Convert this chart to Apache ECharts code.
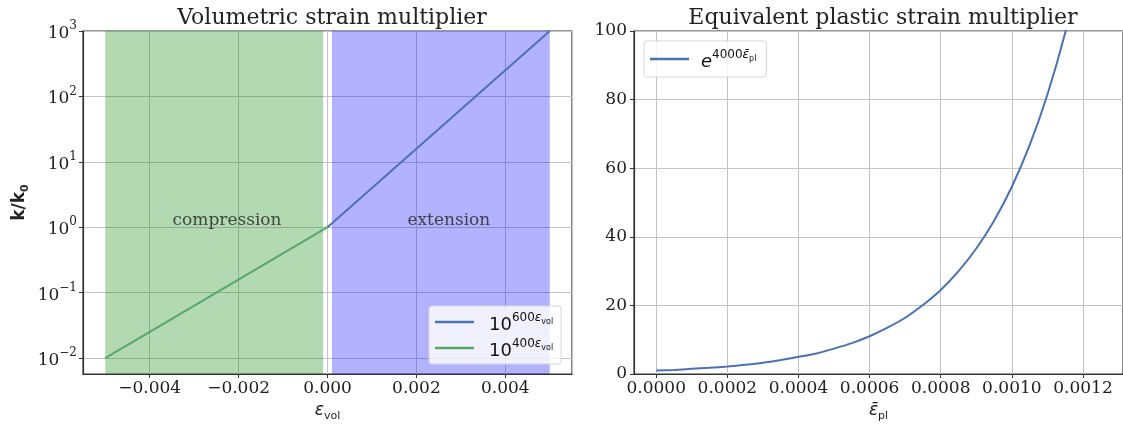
<!DOCTYPE html>
<html>
<head>
<meta charset="utf-8">
<title>Strain multipliers</title>
<script src="https://cdn.jsdelivr.net/npm/echarts@6/dist/echarts.min.js"></script>
</head>
<body style="margin:0">
<div id="main" style="width:1123px;height:428px"></div>
<script>
// left panel: k/k0 against volumetric strain (log axis)
var extVolX = [0, 0.005];
var extVolY = [1, 1000];
var compVolX = [-0.005, 0];
var compVolY = [0.01, 1];
var compressionRange = [-0.005, -0.0001];
var extensionRange = [0.0001, 0.005];
var regionNames = ['compression', 'extension'];
var regionX = [-0.00226, 0.00273];
var regionY = [1.28, 1.28];

// right panel: multiplier against equivalent plastic strain
var plX = [0, 0.00005, 0.0001, 0.00015, 0.0002, 0.00025, 0.0003, 0.00035, 0.0004, 0.00045, 0.0005, 0.00055,
           0.0006, 0.00065, 0.0007, 0.00075, 0.0008, 0.00085, 0.0009, 0.00095, 0.001, 0.00105, 0.0011, 0.00115, 0.0012];
var plY = [1, 1.2, 1.5, 1.8, 2.2, 2.7, 3.3, 4.1, 5.0, 6.0, 7.4, 9.0,
           11, 13.5, 16.4, 20.1, 24.5, 30.0, 36.6, 44.7, 54.6, 66.7, 81.5, 99.5, 121.5];

function zip(xs, ys) {
  return xs.map(function (x, i) { return [x, ys[i]]; });
}

var serif = 'DejaVu Serif';
var sans = 'DejaVu Sans';
var ink = '#222';
var gridColor = '#c4c4c4';
var blue = '#4c72b0';
var green = '#55a868';

var legendText = {
  ext: '{b|10}{s|600}{e|ε}{v|vol}',
  comp: '{b|10}{s|400}{e|ε}{v|vol}',
  pl: '{eb|e}{s|4000}{e|ε\u0304}{v|pl}'
};
var legendRich = {
  b: {fontFamily: sans, fontSize: 18, color: '#111', lineHeight: 24, verticalAlign: 'bottom', padding: [0, 0, 0, 10]},
  eb: {fontFamily: sans, fontSize: 18, fontStyle: 'italic', color: '#111', lineHeight: 24, verticalAlign: 'bottom', padding: [0, 0, 0, 7]},
  s: {fontFamily: sans, fontSize: 12, color: '#111', lineHeight: 12, verticalAlign: 'top', padding: [2, 0, 0, 0]},
  e: {fontFamily: sans, fontSize: 12, fontStyle: 'italic', color: '#111', lineHeight: 12, verticalAlign: 'top', padding: [2, 0, 0, 0]},
  v: {fontFamily: sans, fontSize: 8, color: '#111', lineHeight: 8, verticalAlign: 'top', padding: [8, 0, 0, 0]}
};

function tickStyle() {
  return {show: true, length: 4, lineStyle: {color: '#333'}};
}
function lineAxis() {
  return {show: true, onZero: false, lineStyle: {color: '#333', width: 1.2}};
}
function fixed(n) {
  return function (v) {
    var s = Math.abs(v).toFixed(n);
    return (v < 0 && Number(s) !== 0 ? '−' : '') + s;
  };
}

var chart = echarts.init(document.getElementById('main'));
var option = {
  animation: false,
  title: [
    {text: 'Volumetric strain multiplier', left: 327, top: 2, textAlign: 'center',
     textStyle: {fontFamily: serif, fontSize: 22, fontWeight: 'normal', color: ink}},
    {text: 'Equivalent plastic strain multiplier', left: 878, top: 2, textAlign: 'center',
     textStyle: {fontFamily: serif, fontSize: 22, fontWeight: 'normal', color: ink}}
  ],
  grid: [
    {left: 83, top: 31, width: 489, height: 343, show: true, borderColor: '#333', borderWidth: 1.2, outerBoundsMode: 'none'},
    {left: 634, top: 31, width: 489, height: 343, show: true, borderColor: '#333', borderWidth: 1.2, outerBoundsMode: 'none'}
  ],
  legend: [
    {data: ['ext', 'comp'], orient: 'vertical', left: 429, top: 306, icon: 'rect', itemWidth: 39, itemHeight: 2.5,
     itemGap: 2, padding: [4, 8, 4, 6], backgroundColor: 'rgba(255,255,255,0.8)', borderColor: '#d6d6d6', borderWidth: 1,
     borderRadius: 3, formatter: function (n) { return legendText[n]; }, textStyle: {rich: legendRich}},
    {data: ['pl'], orient: 'vertical', left: 644, top: 41, icon: 'rect', itemWidth: 39, itemHeight: 2.5,
     padding: [6, 10, 6, 6], backgroundColor: 'rgba(255,255,255,0.8)', borderColor: '#d6d6d6', borderWidth: 1,
     borderRadius: 3, formatter: function (n) { return legendText[n]; }, textStyle: {rich: legendRich}}
  ],
  xAxis: [
    {type: 'value', gridIndex: 0, min: -0.0055, max: 0.0055, splitNumber: 5,
     axisLine: lineAxis(), axisTick: tickStyle(),
     axisLabel: {formatter: fixed(3), showMinLabel: false, showMaxLabel: false, fontFamily: serif, fontSize: 17, color: ink, margin: 6},
     splitLine: {show: true, lineStyle: {color: gridColor, width: 1}},
     name: '{e|ε}{v|vol}', nameLocation: 'middle', nameGap: 24,
     nameTextStyle: {rich: {
       e: {fontFamily: sans, fontSize: 17, fontStyle: 'italic', color: ink, lineHeight: 20, verticalAlign: 'top'},
       v: {fontFamily: sans, fontSize: 11, color: ink, lineHeight: 11, verticalAlign: 'bottom'}}}},
    {type: 'value', gridIndex: 1, min: -0.0000625, max: 0.0013125, splitNumber: 7,
     axisLine: lineAxis(), axisTick: tickStyle(),
     axisLabel: {formatter: fixed(4), showMinLabel: false, showMaxLabel: false, fontFamily: serif, fontSize: 17, color: ink, margin: 6},
     splitLine: {show: true, lineStyle: {color: gridColor, width: 1}},
     name: '{e|ε\u0304}{v|pl}', nameLocation: 'middle', nameGap: 24,
     nameTextStyle: {rich: {
       e: {fontFamily: sans, fontSize: 17, fontStyle: 'italic', color: ink, lineHeight: 20, verticalAlign: 'top'},
       v: {fontFamily: sans, fontSize: 11, color: ink, lineHeight: 11, verticalAlign: 'bottom'}}}}
  ],
  yAxis: [
    {type: 'log', gridIndex: 0, logBase: 10, min: 0.0057, max: 1000,
     axisLine: lineAxis(), axisTick: tickStyle(),
     axisLabel: {showMinLabel: false, margin: 6,
       formatter: function (v) {
         var p = Math.round(Math.log10(v));
         return '{b|10}{s|' + (p < 0 ? '−' + (-p) : p) + '}';
       },
       rich: {
         b: {fontFamily: serif, fontSize: 17, color: ink, lineHeight: 22, verticalAlign: 'bottom'},
         s: {fontFamily: serif, fontSize: 12, color: ink, lineHeight: 12, verticalAlign: 'top'}}},
     splitLine: {show: true, lineStyle: {color: gridColor, width: 1}},
     name: '{k|k/k}{z|0}', nameLocation: 'middle', nameRotate: 90, nameGap: 52,
     nameTextStyle: {rich: {
       k: {fontFamily: sans, fontSize: 17, fontWeight: 'bold', color: ink, lineHeight: 20, verticalAlign: 'top'},
       z: {fontFamily: sans, fontSize: 11, fontWeight: 'bold', color: ink, lineHeight: 11, verticalAlign: 'bottom'}}}},
    {type: 'value', gridIndex: 1, min: 0, max: 100, interval: 20,
     axisLine: lineAxis(), axisTick: tickStyle(),
     axisLabel: {fontFamily: serif, fontSize: 17, color: ink, margin: 7},
     splitLine: {show: true, lineStyle: {color: gridColor, width: 1}}}
  ],
  series: [
    {name: 'ext', type: 'line', xAxisIndex: 0, yAxisIndex: 0, data: zip(extVolX, extVolY),
     showSymbol: false, symbol: 'none', color: blue, lineStyle: {width: 2, color: blue}, z: 3,
     markArea: {silent: true, itemStyle: {color: 'rgba(0,0,255,0.3)'},
       data: [[{xAxis: extensionRange[0]}, {xAxis: extensionRange[1]}]]}},
    {name: 'comp', type: 'line', xAxisIndex: 0, yAxisIndex: 0, data: zip(compVolX, compVolY),
     showSymbol: false, symbol: 'none', color: green, lineStyle: {width: 2, color: green}, z: 3,
     markArea: {silent: true, itemStyle: {color: 'rgba(0,128,0,0.3)'},
       data: [[{xAxis: compressionRange[0]}, {xAxis: compressionRange[1]}]]}},
    {name: 'regions', type: 'scatter', xAxisIndex: 0, yAxisIndex: 0, symbolSize: 1, silent: true,
     itemStyle: {color: 'rgba(0,0,0,0)'},
     data: regionNames.map(function (n, i) { return {name: n, value: [regionX[i], regionY[i]]}; }),
     label: {show: true, position: 'inside', formatter: '{b}', fontFamily: serif, fontSize: 17, color: ink}},
    {name: 'pl', type: 'line', xAxisIndex: 1, yAxisIndex: 1, data: zip(plX, plY), smooth: 0.3,
     showSymbol: false, symbol: 'none', color: blue, lineStyle: {width: 2, color: blue}, clip: true}
  ]
};
chart.setOption(option);
</script>
</body>
</html>
